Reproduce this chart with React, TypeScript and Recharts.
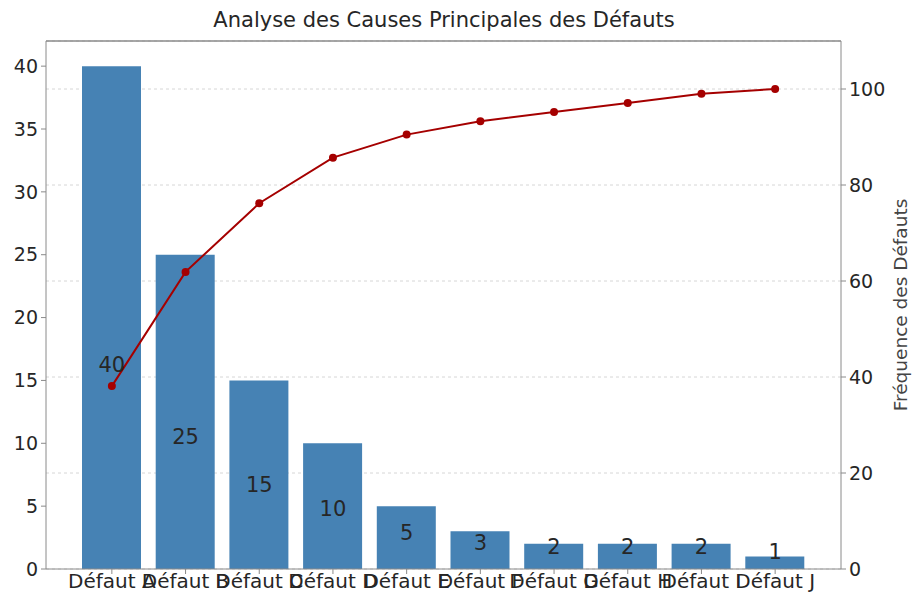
import { Bar, CartesianGrid, ComposedChart, LabelList, Line, ReferenceLine, XAxis, YAxis } from "recharts";

const categories = [
  "Défaut A",
  "Défaut B",
  "Défaut C",
  "Défaut D",
  "Défaut E",
  "Défaut F",
  "Défaut G",
  "Défaut H",
  "Défaut I",
  "Défaut J",
];
const counts = [40, 25, 15, 10, 5, 3, 2, 2, 2, 1];
const cumulativePct = [38.1, 61.9, 76.2, 85.7, 90.5, 93.3, 95.2, 97.1, 99.0, 100];
const leftTicks = [0, 5, 10, 15, 20, 25, 30, 35, 40];
const rightTicks = [0, 20, 40, 60, 80, 100];

const data = categories.map((name, i) => ({
  name,
  count: counts[i],
  cum: cumulativePct[i],
}));

const FONT = "'DejaVu Sans', sans-serif";
const SPINE = "#8a8a8a";
const TEXT = "#262626";

export default function App() {
  return (
    <div style={{ position: "absolute", left: 0, top: 0, background: "#fff" }}>
      <ComposedChart
        width={912}
        height={598}
        data={data}
        margin={{ top: 41, right: 0, bottom: 0, left: 0 }}
        style={{ fontFamily: FONT }}
      >
        <text x={444} y={27} textAnchor="middle" fontSize={21} fill={TEXT} fontFamily={FONT}>
          Analyse des Causes Principales des Défauts
        </text>
        <text
          x={900}
          y={305}
          transform="rotate(-90 900 305)"
          textAnchor="middle"
          dominantBaseline="central"
          fontSize={18.5}
          fill="#444"
          fontFamily={FONT}
        >
          Fréquence des Défauts
        </text>
        <XAxis
          dataKey="name"
          height={29}
          padding={{ left: 29, right: 29 }}
          interval={0}
          tickSize={5}
          tick={{ fontSize: 20, fill: TEXT }}
          stroke={SPINE}
          tickMargin={0}
        />
        <YAxis
          yAxisId="left"
          width={46}
          domain={[0, 42]}
          ticks={leftTicks}
          tickSize={5}
          tick={{ fontSize: 19, fill: TEXT }}
          stroke={SPINE}
          tickMargin={3}
        />
        <YAxis
          yAxisId="right"
          orientation="right"
          width={71}
          domain={[0, 110]}
          ticks={rightTicks}
          tickSize={5}
          tick={{ fontSize: 19, fill: TEXT }}
          stroke={SPINE}
          tickMargin={3}
        />
        <Bar yAxisId="left" dataKey="count" fill="#4682b4" barSize={59} isAnimationActive={false} />
        <CartesianGrid yAxisId="right" vertical={false} strokeDasharray="3 3" stroke="#d6d6d6" />
        <ReferenceLine yAxisId="right" y={110} stroke={SPINE} strokeWidth={1.5} />
        <Line
          yAxisId="right"
          dataKey="count"
          stroke="none"
          dot={false}
          activeDot={false}
          legendType="none"
          isAnimationActive={false}
        >
          <LabelList dataKey="count" position="top" offset={5} fontSize={21} fill={TEXT} />
        </Line>
        <Line
          yAxisId="right"
          dataKey="cum"
          stroke="#a50000"
          strokeWidth={2}
          dot={{ r: 4, fill: "#a50000", stroke: "#a50000", strokeWidth: 0 }}
          isAnimationActive={false}
        />
      </ComposedChart>
    </div>
  );
}
